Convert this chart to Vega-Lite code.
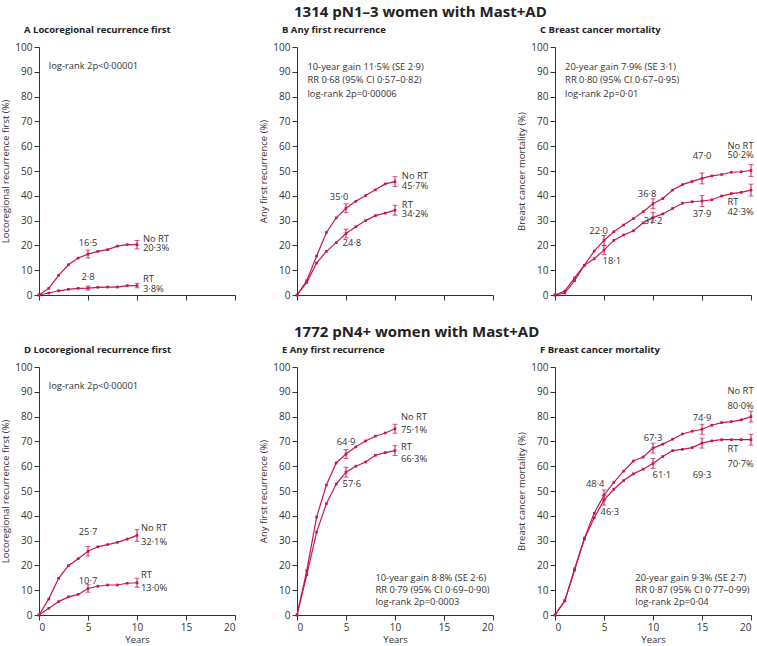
{
  "$schema": "https://vega.github.io/schema/vega-lite/v6.json",
  "padding": {"left": 0, "top": 4, "right": 0, "bottom": 0},
  "spacing": 23,
  "datasets": {
    "curves": [
      {"p":"A","g":"NoRT","year":0,"v":0},{"p":"A","g":"NoRT","year":1,"v":2.7},{"p":"A","g":"NoRT","year":2,"v":7.9},{"p":"A","g":"NoRT","year":3,"v":12.2},{"p":"A","g":"NoRT","year":4,"v":14.9},{"p":"A","g":"NoRT","year":5,"v":16.5},{"p":"A","g":"NoRT","year":6,"v":17.6},{"p":"A","g":"NoRT","year":7,"v":18.3},{"p":"A","g":"NoRT","year":8,"v":19.7},{"p":"A","g":"NoRT","year":9,"v":20.3},{"p":"A","g":"NoRT","year":10,"v":20.3},
      {"p":"A","g":"RT","year":0,"v":0},{"p":"A","g":"RT","year":1,"v":0.8},{"p":"A","g":"RT","year":2,"v":1.7},{"p":"A","g":"RT","year":3,"v":2.3},{"p":"A","g":"RT","year":4,"v":2.7},{"p":"A","g":"RT","year":5,"v":2.8},{"p":"A","g":"RT","year":6,"v":3.1},{"p":"A","g":"RT","year":7,"v":3.2},{"p":"A","g":"RT","year":8,"v":3.2},{"p":"A","g":"RT","year":9,"v":3.8},{"p":"A","g":"RT","year":10,"v":3.8},
      {"p":"B","g":"NoRT","year":0,"v":0},{"p":"B","g":"NoRT","year":1,"v":5.8},{"p":"B","g":"NoRT","year":2,"v":15.7},{"p":"B","g":"NoRT","year":3,"v":25.2},{"p":"B","g":"NoRT","year":4,"v":31.1},{"p":"B","g":"NoRT","year":5,"v":35.0},{"p":"B","g":"NoRT","year":6,"v":37.8},{"p":"B","g":"NoRT","year":7,"v":40.1},{"p":"B","g":"NoRT","year":8,"v":42.4},{"p":"B","g":"NoRT","year":9,"v":44.8},{"p":"B","g":"NoRT","year":10,"v":45.7},
      {"p":"B","g":"RT","year":0,"v":0},{"p":"B","g":"RT","year":1,"v":5.1},{"p":"B","g":"RT","year":2,"v":12.9},{"p":"B","g":"RT","year":3,"v":17.6},{"p":"B","g":"RT","year":4,"v":21.1},{"p":"B","g":"RT","year":5,"v":24.8},{"p":"B","g":"RT","year":6,"v":27.5},{"p":"B","g":"RT","year":7,"v":30.0},{"p":"B","g":"RT","year":8,"v":32.0},{"p":"B","g":"RT","year":9,"v":33.0},{"p":"B","g":"RT","year":10,"v":34.2},
      {"p":"C","g":"NoRT","year":0,"v":0},{"p":"C","g":"NoRT","year":1,"v":1.6},{"p":"C","g":"NoRT","year":2,"v":6.9},{"p":"C","g":"NoRT","year":3,"v":12.0},{"p":"C","g":"NoRT","year":4,"v":17.7},{"p":"C","g":"NoRT","year":5,"v":22.0},{"p":"C","g":"NoRT","year":6,"v":25.5},{"p":"C","g":"NoRT","year":7,"v":28.2},{"p":"C","g":"NoRT","year":8,"v":30.8},{"p":"C","g":"NoRT","year":9,"v":33.6},{"p":"C","g":"NoRT","year":10,"v":36.8},{"p":"C","g":"NoRT","year":11,"v":38.9},{"p":"C","g":"NoRT","year":12,"v":42.3},{"p":"C","g":"NoRT","year":13,"v":44.5},{"p":"C","g":"NoRT","year":14,"v":45.8},{"p":"C","g":"NoRT","year":15,"v":47.0},{"p":"C","g":"NoRT","year":16,"v":48.0},{"p":"C","g":"NoRT","year":17,"v":48.6},{"p":"C","g":"NoRT","year":18,"v":49.5},{"p":"C","g":"NoRT","year":19,"v":49.7},{"p":"C","g":"NoRT","year":20,"v":50.2},
      {"p":"C","g":"RT","year":0,"v":0},{"p":"C","g":"RT","year":1,"v":0.8},{"p":"C","g":"RT","year":2,"v":5.8},{"p":"C","g":"RT","year":3,"v":12.0},{"p":"C","g":"RT","year":4,"v":14.6},{"p":"C","g":"RT","year":5,"v":18.1},{"p":"C","g":"RT","year":6,"v":22.0},{"p":"C","g":"RT","year":7,"v":24.2},{"p":"C","g":"RT","year":8,"v":25.9},{"p":"C","g":"RT","year":9,"v":29.1},{"p":"C","g":"RT","year":10,"v":31.2},{"p":"C","g":"RT","year":11,"v":32.7},{"p":"C","g":"RT","year":12,"v":34.9},{"p":"C","g":"RT","year":13,"v":37.0},{"p":"C","g":"RT","year":14,"v":37.6},{"p":"C","g":"RT","year":15,"v":37.9},{"p":"C","g":"RT","year":16,"v":38.4},{"p":"C","g":"RT","year":17,"v":39.9},{"p":"C","g":"RT","year":18,"v":40.9},{"p":"C","g":"RT","year":19,"v":41.4},{"p":"C","g":"RT","year":20,"v":42.3},
      {"p":"D","g":"NoRT","year":0,"v":0},{"p":"D","g":"NoRT","year":1,"v":6.5},{"p":"D","g":"NoRT","year":2,"v":14.8},{"p":"D","g":"NoRT","year":3,"v":19.9},{"p":"D","g":"NoRT","year":4,"v":22.7},{"p":"D","g":"NoRT","year":5,"v":25.7},{"p":"D","g":"NoRT","year":6,"v":27.5},{"p":"D","g":"NoRT","year":7,"v":28.4},{"p":"D","g":"NoRT","year":8,"v":29.3},{"p":"D","g":"NoRT","year":9,"v":30.6},{"p":"D","g":"NoRT","year":10,"v":32.1},
      {"p":"D","g":"RT","year":0,"v":0},{"p":"D","g":"RT","year":1,"v":2.7},{"p":"D","g":"RT","year":2,"v":5.4},{"p":"D","g":"RT","year":3,"v":7.3},{"p":"D","g":"RT","year":4,"v":8.3},{"p":"D","g":"RT","year":5,"v":10.7},{"p":"D","g":"RT","year":6,"v":11.6},{"p":"D","g":"RT","year":7,"v":12.1},{"p":"D","g":"RT","year":8,"v":12.1},{"p":"D","g":"RT","year":9,"v":12.8},{"p":"D","g":"RT","year":10,"v":13.0},
      {"p":"E","g":"NoRT","year":0,"v":0},{"p":"E","g":"NoRT","year":1,"v":17.9},{"p":"E","g":"NoRT","year":2,"v":39.5},{"p":"E","g":"NoRT","year":3,"v":52.4},{"p":"E","g":"NoRT","year":4,"v":61.3},{"p":"E","g":"NoRT","year":5,"v":64.9},{"p":"E","g":"NoRT","year":6,"v":67.8},{"p":"E","g":"NoRT","year":7,"v":70.2},{"p":"E","g":"NoRT","year":8,"v":72.1},{"p":"E","g":"NoRT","year":9,"v":73.4},{"p":"E","g":"NoRT","year":10,"v":75.1},
      {"p":"E","g":"RT","year":0,"v":0},{"p":"E","g":"RT","year":1,"v":16.2},{"p":"E","g":"RT","year":2,"v":33.4},{"p":"E","g":"RT","year":3,"v":44.9},{"p":"E","g":"RT","year":4,"v":52.8},{"p":"E","g":"RT","year":5,"v":57.6},{"p":"E","g":"RT","year":6,"v":60.0},{"p":"E","g":"RT","year":7,"v":61.7},{"p":"E","g":"RT","year":8,"v":64.4},{"p":"E","g":"RT","year":9,"v":65.5},{"p":"E","g":"RT","year":10,"v":66.3},
      {"p":"F","g":"NoRT","year":0,"v":0},{"p":"F","g":"NoRT","year":1,"v":5.8},{"p":"F","g":"NoRT","year":2,"v":18.6},{"p":"F","g":"NoRT","year":3,"v":31.0},{"p":"F","g":"NoRT","year":4,"v":41.0},{"p":"F","g":"NoRT","year":5,"v":48.4},{"p":"F","g":"NoRT","year":6,"v":53.4},{"p":"F","g":"NoRT","year":7,"v":58.0},{"p":"F","g":"NoRT","year":8,"v":62.1},{"p":"F","g":"NoRT","year":9,"v":63.7},{"p":"F","g":"NoRT","year":10,"v":67.3},{"p":"F","g":"NoRT","year":11,"v":68.9},{"p":"F","g":"NoRT","year":12,"v":70.9},{"p":"F","g":"NoRT","year":13,"v":73.0},{"p":"F","g":"NoRT","year":14,"v":74.1},{"p":"F","g":"NoRT","year":15,"v":74.9},{"p":"F","g":"NoRT","year":16,"v":76.5},{"p":"F","g":"NoRT","year":17,"v":77.6},{"p":"F","g":"NoRT","year":18,"v":78.0},{"p":"F","g":"NoRT","year":19,"v":78.7},{"p":"F","g":"NoRT","year":20,"v":80.0},
      {"p":"F","g":"RT","year":0,"v":0},{"p":"F","g":"RT","year":1,"v":5.7},{"p":"F","g":"RT","year":2,"v":18.1},{"p":"F","g":"RT","year":3,"v":30.6},{"p":"F","g":"RT","year":4,"v":39.2},{"p":"F","g":"RT","year":5,"v":46.3},{"p":"F","g":"RT","year":6,"v":50.7},{"p":"F","g":"RT","year":7,"v":54.2},{"p":"F","g":"RT","year":8,"v":56.9},{"p":"F","g":"RT","year":9,"v":58.8},{"p":"F","g":"RT","year":10,"v":61.1},{"p":"F","g":"RT","year":11,"v":63.9},{"p":"F","g":"RT","year":12,"v":66.3},{"p":"F","g":"RT","year":13,"v":66.8},{"p":"F","g":"RT","year":14,"v":67.5},{"p":"F","g":"RT","year":15,"v":69.3},{"p":"F","g":"RT","year":16,"v":70.2},{"p":"F","g":"RT","year":17,"v":70.7},{"p":"F","g":"RT","year":18,"v":70.7},{"p":"F","g":"RT","year":19,"v":70.7},{"p":"F","g":"RT","year":20,"v":70.7}
    ],
    "errs": [
      {"p":"A","g":"NoRT","year":5,"lo":14.9,"hi":18.1},{"p":"A","g":"NoRT","year":10,"lo":18.6,"hi":22.0},{"p":"A","g":"RT","year":5,"lo":2.0,"hi":3.6},{"p":"A","g":"RT","year":10,"lo":2.9,"hi":4.7},
      {"p":"B","g":"NoRT","year":5,"lo":33.2,"hi":36.8},{"p":"B","g":"NoRT","year":10,"lo":43.7,"hi":47.7},{"p":"B","g":"RT","year":5,"lo":23.0,"hi":26.6},{"p":"B","g":"RT","year":10,"lo":32.2,"hi":36.2},
      {"p":"C","g":"NoRT","year":5,"lo":20.0,"hi":24.0},{"p":"C","g":"NoRT","year":10,"lo":34.8,"hi":38.8},{"p":"C","g":"NoRT","year":15,"lo":44.8,"hi":49.2},{"p":"C","g":"NoRT","year":20,"lo":47.8,"hi":52.6},
      {"p":"C","g":"RT","year":5,"lo":16.3,"hi":19.9},{"p":"C","g":"RT","year":10,"lo":29.2,"hi":33.2},{"p":"C","g":"RT","year":15,"lo":35.7,"hi":40.1},{"p":"C","g":"RT","year":20,"lo":39.9,"hi":44.7},
      {"p":"D","g":"NoRT","year":5,"lo":23.8,"hi":27.6},{"p":"D","g":"NoRT","year":10,"lo":29.7,"hi":34.5},{"p":"D","g":"RT","year":5,"lo":9.2,"hi":12.2},{"p":"D","g":"RT","year":10,"lo":11.2,"hi":14.8},
      {"p":"E","g":"NoRT","year":5,"lo":63.1,"hi":66.7},{"p":"E","g":"NoRT","year":10,"lo":73.3,"hi":76.9},{"p":"E","g":"RT","year":5,"lo":55.6,"hi":59.6},{"p":"E","g":"RT","year":10,"lo":64.3,"hi":68.3},
      {"p":"F","g":"NoRT","year":5,"lo":46.4,"hi":50.4},{"p":"F","g":"NoRT","year":10,"lo":65.3,"hi":69.3},{"p":"F","g":"NoRT","year":15,"lo":72.9,"hi":76.9},{"p":"F","g":"NoRT","year":20,"lo":77.8,"hi":82.2},
      {"p":"F","g":"RT","year":5,"lo":44.3,"hi":48.3},{"p":"F","g":"RT","year":10,"lo":59.1,"hi":63.1},{"p":"F","g":"RT","year":15,"lo":67.3,"hi":71.3},{"p":"F","g":"RT","year":20,"lo":68.5,"hi":72.9}
    ],
    "vlabels": [
      {"p":"A","x":5,"y":21.1,"t":"16·5"},{"p":"A","x":5,"y":7.1,"t":"2·8"},
      {"p":"B","x":4.3,"y":39.4,"t":"35·0"},{"p":"B","x":5.6,"y":21.0,"t":"24·8"},
      {"p":"C","x":4.45,"y":26.0,"t":"22·0"},{"p":"C","x":5.8,"y":13.9,"t":"18·1"},{"p":"C","x":9.4,"y":40.8,"t":"36·8"},{"p":"C","x":10.0,"y":30.0,"t":"31·2"},{"p":"C","x":15.0,"y":55.9,"t":"47·0"},{"p":"C","x":15.0,"y":32.7,"t":"37·9"},
      {"p":"D","x":5,"y":33.4,"t":"25·7"},{"p":"D","x":5,"y":13.9,"t":"10·7"},
      {"p":"E","x":5,"y":69.7,"t":"64·9"},{"p":"E","x":5.6,"y":52.9,"t":"57·6"},
      {"p":"F","x":4.1,"y":53.0,"t":"48·4"},{"p":"F","x":5.6,"y":41.5,"t":"46·3"},{"p":"F","x":10.0,"y":71.5,"t":"67·3"},{"p":"F","x":10.9,"y":56.6,"t":"61·1"},{"p":"F","x":15.0,"y":79.5,"t":"74·9"},{"p":"F","x":15.0,"y":56.6,"t":"69·3"}
    ],
    "slabels": [
      {"p":"A","x":1.0,"y":92.3,"t":"log-rank 2p<0·00001"},{"p":"A","x":10.6,"y":22.6,"t":"No RT"},{"p":"A","x":10.6,"y":19.0,"t":"20·3%"},{"p":"A","x":10.6,"y":6.6,"t":"RT"},{"p":"A","x":10.6,"y":2.5,"t":"3·8%"},
      {"p":"B","x":1.06,"y":91.9,"t":"10-year gain 11·5% (SE 2·9)"},{"p":"B","x":1.06,"y":86.5,"t":"RR 0·68 (95% CI 0·57–0·82)"},{"p":"B","x":1.06,"y":81.2,"t":"log-rank 2p=0·00006"},{"p":"B","x":10.7,"y":48.0,"t":"No RT"},{"p":"B","x":10.7,"y":44.1,"t":"45·7%"},{"p":"B","x":10.7,"y":36.4,"t":"RT"},{"p":"B","x":10.7,"y":32.7,"t":"34·2%"},
      {"p":"C","x":1.03,"y":91.9,"t":"20-year gain 7·9% (SE 3·1)"},{"p":"C","x":1.03,"y":86.5,"t":"RR 0·80 (95% CI 0·67–0·95)"},{"p":"C","x":1.03,"y":81.2,"t":"log-rank 2p=0·01"},{"p":"C","x":17.6,"y":60.0,"t":"No RT"},{"p":"C","x":17.6,"y":56.5,"t":"50·2%"},{"p":"C","x":17.6,"y":37.4,"t":"RT"},{"p":"C","x":17.6,"y":33.6,"t":"42·3%"},
      {"p":"D","x":1.0,"y":92.2,"t":"log-rank 2p<0·00001"},{"p":"D","x":10.4,"y":35.0,"t":"No RT"},{"p":"D","x":10.4,"y":29.4,"t":"32·1%"},{"p":"D","x":10.4,"y":16.1,"t":"RT"},{"p":"D","x":10.4,"y":10.8,"t":"13·0%"},
      {"p":"E","x":10.6,"y":80.0,"t":"No RT"},{"p":"E","x":10.6,"y":74.6,"t":"75·1%"},{"p":"E","x":10.6,"y":67.9,"t":"RT"},{"p":"E","x":10.6,"y":62.8,"t":"66·3%"},{"p":"E","x":8.0,"y":15.1,"t":"10-year gain 8·8% (SE 2·6)"},{"p":"E","x":8.0,"y":10.1,"t":"RR 0·79 (95% CI 0·69–0·90)"},{"p":"E","x":8.0,"y":5.1,"t":"log-rank 2p=0·0003"},
      {"p":"F","x":17.6,"y":90.3,"t":"No RT"},{"p":"F","x":17.6,"y":84.4,"t":"80·0%"},{"p":"F","x":17.6,"y":66.9,"t":"RT"},{"p":"F","x":17.6,"y":60.9,"t":"70·7%"},{"p":"F","x":8.2,"y":15.1,"t":"20-year gain 9·3% (SE 2·7)"},{"p":"F","x":8.2,"y":10.1,"t":"RR 0·87 (95% CI 0·77–0·99)"},{"p":"F","x":8.2,"y":5.1,"t":"log-rank 2p=0·04"}
    ]
  },
  "vconcat": [
    {
      "bounds": "flush",
      "spacing": 62,
      "title": {"text": "1314 pN1–3 women with Mast+AD", "anchor": "start", "frame": "group", "dx": 255, "fontSize": 15, "fontWeight": "bold", "offset": 5},
      "hconcat": [
        {
          "width": 196, "height": 248,
          "title": {"text": "A   Locoregional recurrence first"},
          "layer": [
            {"data": {"name": "curves"}, "transform": [{"filter": "datum.p==='A'"}],
             "mark": {"type": "line", "color": "#c4174f", "strokeWidth": 1.2, "point": {"shape": "square", "size": 7, "filled": true, "color": "#c4174f"}},
             "encoding": {
               "x": {"field": "year", "type": "quantitative", "scale": {"domain": [0, 20], "nice": false}, "axis": {"labels": false, "title": null}},
               "y": {"field": "v", "type": "quantitative", "scale": {"domain": [0, 100], "nice": false}, "axis": {"title": "Locoregional recurrence first (%)"}},
               "detail": {"field": "g"}}},
            {"data": {"name": "errs"}, "transform": [{"filter": "datum.p==='A'"}],
             "mark": {"type": "errorbar", "ticks": {"size": 5}, "color": "#c4174f"},
             "encoding": {"x": {"field": "year", "type": "quantitative", "axis": {"labels": false, "title": null}}, "y": {"field": "lo", "type": "quantitative", "axis": {"title": "Locoregional recurrence first (%)"}}, "y2": {"field": "hi"}}},
            {"data": {"name": "vlabels"}, "transform": [{"filter": "datum.p==='A'"}],
             "mark": {"type": "text", "align": "center", "baseline": "middle"},
             "encoding": {"x": {"field": "x", "type": "quantitative"}, "y": {"field": "y", "type": "quantitative"}, "text": {"field": "t"}}},
            {"data": {"name": "slabels"}, "transform": [{"filter": "datum.p==='A'"}],
             "mark": {"type": "text", "align": "left", "baseline": "middle"},
             "encoding": {"x": {"field": "x", "type": "quantitative"}, "y": {"field": "y", "type": "quantitative"}, "text": {"field": "t"}}}
          ]
        },
        {
          "width": 196, "height": 248,
          "title": {"text": "B   Any first recurrence"},
          "layer": [
            {"data": {"name": "curves"}, "transform": [{"filter": "datum.p==='B'"}],
             "mark": {"type": "line", "color": "#c4174f", "strokeWidth": 1.2, "point": {"shape": "square", "size": 7, "filled": true, "color": "#c4174f"}},
             "encoding": {
               "x": {"field": "year", "type": "quantitative", "scale": {"domain": [0, 20], "nice": false}, "axis": {"labels": false, "title": null}},
               "y": {"field": "v", "type": "quantitative", "scale": {"domain": [0, 100], "nice": false}, "axis": {"title": "Any first recurrence (%)"}},
               "detail": {"field": "g"}}},
            {"data": {"name": "errs"}, "transform": [{"filter": "datum.p==='B'"}],
             "mark": {"type": "errorbar", "ticks": {"size": 5}, "color": "#c4174f"},
             "encoding": {"x": {"field": "year", "type": "quantitative", "axis": {"labels": false, "title": null}}, "y": {"field": "lo", "type": "quantitative", "axis": {"title": "Any first recurrence (%)"}}, "y2": {"field": "hi"}}},
            {"data": {"name": "vlabels"}, "transform": [{"filter": "datum.p==='B'"}],
             "mark": {"type": "text", "align": "center", "baseline": "middle"},
             "encoding": {"x": {"field": "x", "type": "quantitative"}, "y": {"field": "y", "type": "quantitative"}, "text": {"field": "t"}}},
            {"data": {"name": "slabels"}, "transform": [{"filter": "datum.p==='B'"}],
             "mark": {"type": "text", "align": "left", "baseline": "middle"},
             "encoding": {"x": {"field": "x", "type": "quantitative"}, "y": {"field": "y", "type": "quantitative"}, "text": {"field": "t"}}}
          ]
        },
        {
          "width": 196, "height": 248,
          "title": {"text": "C   Breast cancer mortality"},
          "layer": [
            {"data": {"name": "curves"}, "transform": [{"filter": "datum.p==='C'"}],
             "mark": {"type": "line", "color": "#c4174f", "strokeWidth": 1.2, "point": {"shape": "square", "size": 7, "filled": true, "color": "#c4174f"}},
             "encoding": {
               "x": {"field": "year", "type": "quantitative", "scale": {"domain": [0, 20], "nice": false}, "axis": {"labels": false, "title": null}},
               "y": {"field": "v", "type": "quantitative", "scale": {"domain": [0, 100], "nice": false}, "axis": {"title": "Breast cancer mortality (%)"}},
               "detail": {"field": "g"}}},
            {"data": {"name": "errs"}, "transform": [{"filter": "datum.p==='C'"}],
             "mark": {"type": "errorbar", "ticks": {"size": 5}, "color": "#c4174f"},
             "encoding": {"x": {"field": "year", "type": "quantitative", "axis": {"labels": false, "title": null}}, "y": {"field": "lo", "type": "quantitative", "axis": {"title": "Breast cancer mortality (%)"}}, "y2": {"field": "hi"}}},
            {"data": {"name": "vlabels"}, "transform": [{"filter": "datum.p==='C'"}],
             "mark": {"type": "text", "align": "center", "baseline": "middle"},
             "encoding": {"x": {"field": "x", "type": "quantitative"}, "y": {"field": "y", "type": "quantitative"}, "text": {"field": "t"}}},
            {"data": {"name": "slabels"}, "transform": [{"filter": "datum.p==='C'"}],
             "mark": {"type": "text", "align": "left", "baseline": "middle"},
             "encoding": {"x": {"field": "x", "type": "quantitative"}, "y": {"field": "y", "type": "quantitative"}, "text": {"field": "t"}}}
          ]
        }
      ]
    },
    {
      "bounds": "flush",
      "spacing": 62,
      "title": {"text": "1772 pN4+ women with Mast+AD", "anchor": "start", "frame": "group", "dx": 255, "fontSize": 15, "fontWeight": "bold", "offset": 5},
      "hconcat": [
        {
          "width": 196, "height": 248,
          "title": {"text": "D   Locoregional recurrence first"},
          "layer": [
            {"data": {"name": "curves"}, "transform": [{"filter": "datum.p==='D'"}],
             "mark": {"type": "line", "color": "#c4174f", "strokeWidth": 1.2, "point": {"shape": "square", "size": 7, "filled": true, "color": "#c4174f"}},
             "encoding": {
               "x": {"field": "year", "type": "quantitative", "scale": {"domain": [0, 20], "nice": false}, "axis": {"title": "Years"}},
               "y": {"field": "v", "type": "quantitative", "scale": {"domain": [0, 100], "nice": false}, "axis": {"title": "Locoregional recurrence first (%)"}},
               "detail": {"field": "g"}}},
            {"data": {"name": "errs"}, "transform": [{"filter": "datum.p==='D'"}],
             "mark": {"type": "errorbar", "ticks": {"size": 5}, "color": "#c4174f"},
             "encoding": {"x": {"field": "year", "type": "quantitative", "axis": {"title": "Years"}}, "y": {"field": "lo", "type": "quantitative", "axis": {"title": "Locoregional recurrence first (%)"}}, "y2": {"field": "hi"}}},
            {"data": {"name": "vlabels"}, "transform": [{"filter": "datum.p==='D'"}],
             "mark": {"type": "text", "align": "center", "baseline": "middle"},
             "encoding": {"x": {"field": "x", "type": "quantitative"}, "y": {"field": "y", "type": "quantitative"}, "text": {"field": "t"}}},
            {"data": {"name": "slabels"}, "transform": [{"filter": "datum.p==='D'"}],
             "mark": {"type": "text", "align": "left", "baseline": "middle"},
             "encoding": {"x": {"field": "x", "type": "quantitative"}, "y": {"field": "y", "type": "quantitative"}, "text": {"field": "t"}}}
          ]
        },
        {
          "width": 196, "height": 248,
          "title": {"text": "E   Any first recurrence"},
          "layer": [
            {"data": {"name": "curves"}, "transform": [{"filter": "datum.p==='E'"}],
             "mark": {"type": "line", "color": "#c4174f", "strokeWidth": 1.2, "point": {"shape": "square", "size": 7, "filled": true, "color": "#c4174f"}},
             "encoding": {
               "x": {"field": "year", "type": "quantitative", "scale": {"domain": [0, 20], "nice": false}, "axis": {"title": "Years"}},
               "y": {"field": "v", "type": "quantitative", "scale": {"domain": [0, 100], "nice": false}, "axis": {"title": "Any first recurrence (%)"}},
               "detail": {"field": "g"}}},
            {"data": {"name": "errs"}, "transform": [{"filter": "datum.p==='E'"}],
             "mark": {"type": "errorbar", "ticks": {"size": 5}, "color": "#c4174f"},
             "encoding": {"x": {"field": "year", "type": "quantitative", "axis": {"title": "Years"}}, "y": {"field": "lo", "type": "quantitative", "axis": {"title": "Any first recurrence (%)"}}, "y2": {"field": "hi"}}},
            {"data": {"name": "vlabels"}, "transform": [{"filter": "datum.p==='E'"}],
             "mark": {"type": "text", "align": "center", "baseline": "middle"},
             "encoding": {"x": {"field": "x", "type": "quantitative"}, "y": {"field": "y", "type": "quantitative"}, "text": {"field": "t"}}},
            {"data": {"name": "slabels"}, "transform": [{"filter": "datum.p==='E'"}],
             "mark": {"type": "text", "align": "left", "baseline": "middle"},
             "encoding": {"x": {"field": "x", "type": "quantitative"}, "y": {"field": "y", "type": "quantitative"}, "text": {"field": "t"}}}
          ]
        },
        {
          "width": 196, "height": 248,
          "title": {"text": "F   Breast cancer mortality"},
          "layer": [
            {"data": {"name": "curves"}, "transform": [{"filter": "datum.p==='F'"}],
             "mark": {"type": "line", "color": "#c4174f", "strokeWidth": 1.2, "point": {"shape": "square", "size": 7, "filled": true, "color": "#c4174f"}},
             "encoding": {
               "x": {"field": "year", "type": "quantitative", "scale": {"domain": [0, 20], "nice": false}, "axis": {"title": "Years"}},
               "y": {"field": "v", "type": "quantitative", "scale": {"domain": [0, 100], "nice": false}, "axis": {"title": "Breast cancer mortality (%)"}},
               "detail": {"field": "g"}}},
            {"data": {"name": "errs"}, "transform": [{"filter": "datum.p==='F'"}],
             "mark": {"type": "errorbar", "ticks": {"size": 5}, "color": "#c4174f"},
             "encoding": {"x": {"field": "year", "type": "quantitative", "axis": {"title": "Years"}}, "y": {"field": "lo", "type": "quantitative", "axis": {"title": "Breast cancer mortality (%)"}}, "y2": {"field": "hi"}}},
            {"data": {"name": "vlabels"}, "transform": [{"filter": "datum.p==='F'"}],
             "mark": {"type": "text", "align": "center", "baseline": "middle"},
             "encoding": {"x": {"field": "x", "type": "quantitative"}, "y": {"field": "y", "type": "quantitative"}, "text": {"field": "t"}}},
            {"data": {"name": "slabels"}, "transform": [{"filter": "datum.p==='F'"}],
             "mark": {"type": "text", "align": "left", "baseline": "middle"},
             "encoding": {"x": {"field": "x", "type": "quantitative"}, "y": {"field": "y", "type": "quantitative"}, "text": {"field": "t"}}}
          ]
        }
      ]
    }
  ],
  "config": {
    "view": {"stroke": null},
    "font": "Open Sans",
    "axis": {"domainColor": "#333", "tickColor": "#333", "labelColor": "#333", "titleColor": "#333", "labelFont": "Open Sans", "titleFont": "Open Sans", "labelFontSize": 10, "titleFontSize": 9.5, "titleFontWeight": "normal", "grid": false, "tickSize": 5, "labelPadding": 2, "titlePadding": 4, "labelOverlap": false},
    "axisY": {"tickCount": 10},
    "axisX": {"tickCount": 4, "titlePadding": 2},
    "text": {"font": "Open Sans", "fontSize": 9.4, "color": "#333"},
    "title": {"font": "Open Sans", "color": "#222", "anchor": "start", "frame": "group", "dx": -15, "offset": 8, "fontSize": 9.5, "fontWeight": "bold"}
  }
}
